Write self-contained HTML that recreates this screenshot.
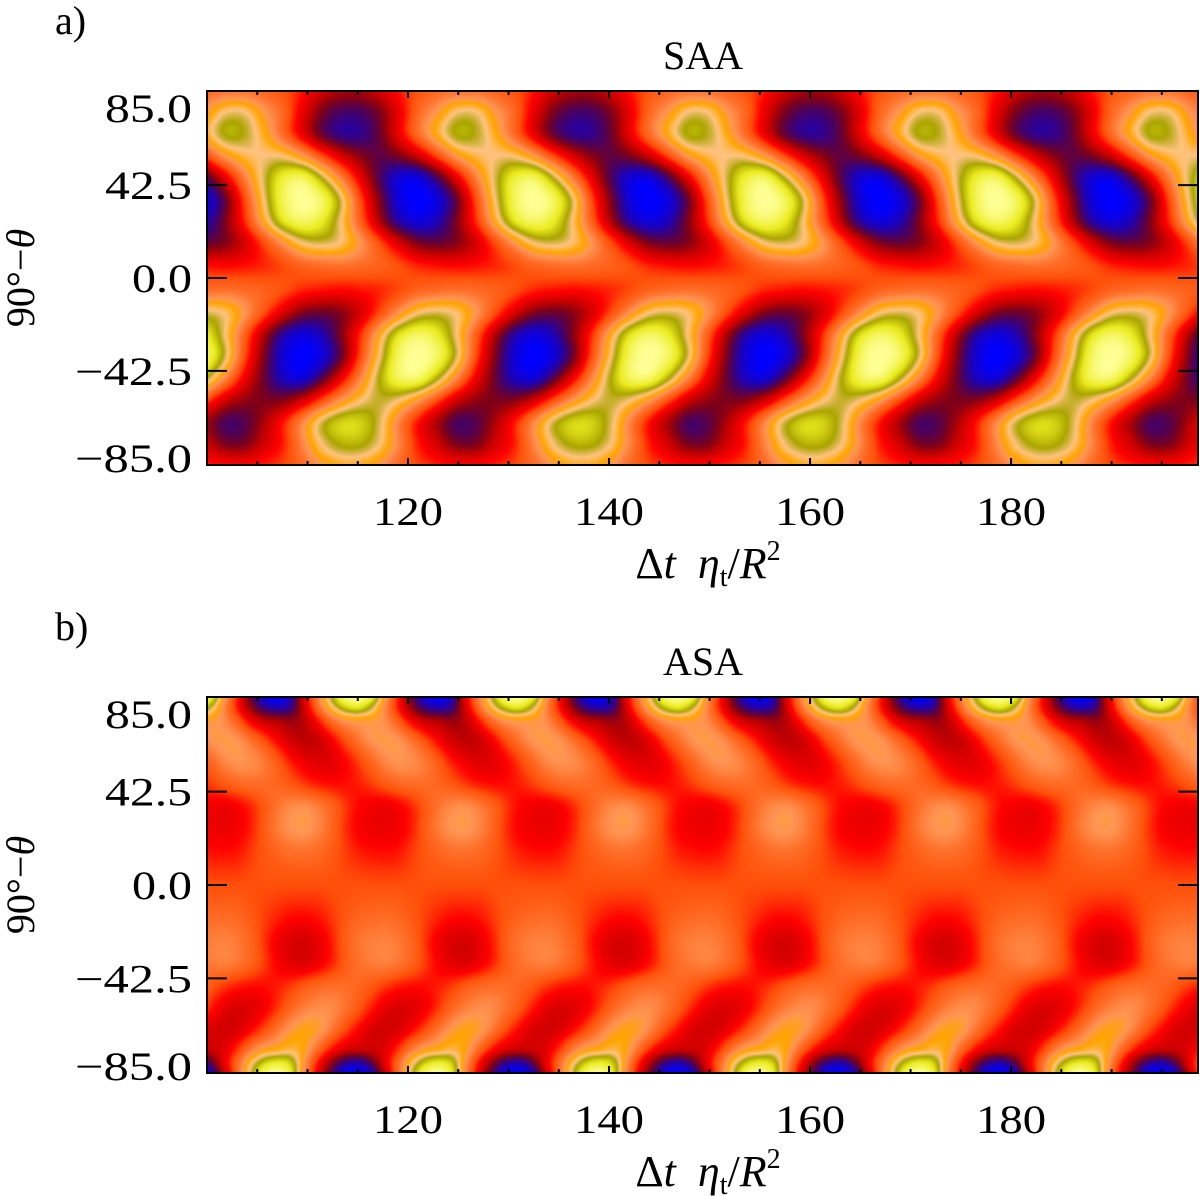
<!DOCTYPE html>
<html><head><meta charset="utf-8">
<style>
html,body{margin:0;padding:0;background:#fff;}
#wrap{position:relative;width:1200px;height:1196px;overflow:hidden;}
canvas{position:absolute;}
svg{position:absolute;left:0;top:0;}
text{font-family:"Liberation Serif","DejaVu Serif",serif;fill:#000;}
</style></head>
<body>
<div id="wrap">
<canvas id="cA" style="left:207px;top:91px" width="991" height="374"></canvas>
<canvas id="cB" style="left:207px;top:697px" width="991" height="376"></canvas>
<svg id="svg" width="1200" height="1196"></svg>
</div>
<script>
// ---- data: one period of the northern-hemisphere field (south = -mirror) ----
const periodA = 23;
const phaseStartA = 109.5;
const latsA = [86, 76, 66, 56, 46, 36, 26, 16, 6];
const valsA = [
 [-.12,-.3,-.4,-.4,-.3,-.12,.02,.1,.15,.15,.1,.02],
 [-.22,-.5,-.64,-.64,-.5,-.22,.1,.3,.5,.5,.3,.1],
 [-.22,-.55,-.72,-.72,-.55,-.22,.12,.4,.63,.6,.4,.12],
 [.3,0,-.28,-.48,-.58,-.5,-.3,0,.3,.45,.5,.48],
 [.88,.6,.2,-.22,-.62,-.88,-.9,-.62,-.22,.2,.55,.82],
 [1,.9,.55,0,-.5,-.9,-1,-.9,-.55,0,.5,.88],
 [.9,.8,.5,.08,-.38,-.76,-.9,-.8,-.5,-.08,.38,.76],
 [.5,.55,.48,.28,0,-.28,-.5,-.55,-.48,-.28,0,.28],
 [.1,.14,.16,.13,.08,0,-.1,-.14,-.16,-.13,-.08,0]
];
const periodB = 16;
const phaseStartB = 107;
const latsB = [86, 81, 75, 66, 56, 46, 36, 26, 16, 4];
const valsB = [
 [-1,-.8,-.25,.2,.6,.95,1,.85,.35,-.1,-.55,-.9],
 [-.8,-.7,-.3,.1,.45,.7,.78,.6,.25,-.1,-.45,-.7],
 [-.4,-.45,-.36,-.12,.12,.28,.33,.32,.25,.06,-.18,-.34],
 [-.16,-.3,-.36,-.32,-.18,0,.15,.27,.3,.27,.15,0],
 [.05,-.1,-.2,-.25,-.24,-.16,-.04,.1,.22,.27,.25,.18],
 [.1,.04,-.04,-.1,-.13,-.13,-.1,-.04,.04,.1,.13,.13],
 [.16,.23,.25,.19,.09,-.04,-.14,-.18,-.2,-.16,-.08,.04],
 [.19,.27,.29,.23,.11,-.05,-.16,-.2,-.21,-.18,-.1,.05],
 [.1,.15,.16,.13,.06,-.03,-.1,-.13,-.14,-.12,-.05,.03],
 [.02,.03,.03,.03,.01,-.01,-.02,-.03,-.03,-.03,-.01,.01]
];
const xTickLabels = ["120","140","160","180"];
const xTickValues = [120,140,160,180];
const yTickLabels = ["85.0","42.5","0.0","\u221242.5","\u221285.0"];
const yTickValues = [85,42.5,0,-42.5,-85];

const cstops = [
 [-1.0,0,0,255],[-0.8,30,0,180],[-0.65,70,0,100],[-0.5,125,0,25],[-0.35,195,0,0],
 [-0.15,255,0,0],[0.0,255,80,10],[0.15,255,112,42],[0.28,255,150,85],[0.38,255,165,0],
 [0.5,255,195,130],[0.62,170,165,0],[0.78,235,235,30],[1.0,255,255,150]];
function cmap(v){
  if(v<=cstops[0][0]) return cstops[0].slice(1);
  for(let i=1;i<cstops.length;i++){
    if(v<=cstops[i][0]){const a=cstops[i-1],b=cstops[i];const f=(v-a[0])/(b[0]-a[0]);
      return [a[1]+f*(b[1]-a[1]),a[2]+f*(b[2]-a[2]),a[3]+f*(b[3]-a[3])];}
  }
  return cstops[cstops.length-1].slice(1);
}
const X0=100, X1=198.6, YMAX=85.6;
function cr(p0,p1,p2,p3,t){return 0.5*((2*p1)+(-p0+p2)*t+(2*p0-5*p1+4*p2-p3)*t*t+(-p0+3*p1-3*p2+p3)*t*t*t);}
function rowVal(row,fk){const n=row.length;const i=Math.floor(fk);const t=fk-i;
  const g=j=>row[((j%n)+n)%n];return cr(g(i-1),g(i),g(i+1),g(i+2),t);}
function extend(lats,vals){
  const L=lats.slice(), V=vals.slice();
  for(let i=lats.length-1;i>=0;i--){L.push(-lats[i]);V.push(vals[i].map(x=>-x));}
  return [L,V];
}
function field(FL,FV,period,start,t,lat){
  const fk=(t-start)/period*12;
  const n=FL.length;
  let idx;
  if(lat>=FL[0]) idx=0; else if(lat<=FL[n-1]) idx=n-1;
  else{for(let i=0;i<n-1;i++){if(lat<=FL[i]&&lat>=FL[i+1]){idx=i+(FL[i]-lat)/(FL[i]-FL[i+1]);break;}}}
  const rv=j=>rowVal(FV[Math.max(0,Math.min(n-1,j))],fk);
  const i=Math.min(Math.floor(idx),n-1), f=idx-i;
  return cr(rv(i-1),rv(i),rv(i+1),rv(i+2),f);
}
function drawHeat(id,lats,vals,period,start){
  const [FL,FV]=extend(lats,vals);
  const c=document.getElementById(id),ctx=c.getContext('2d');
  const W=c.width,H=c.height,img=ctx.createImageData(W,H);
  for(let y=0;y<H;y++){
    const lat=YMAX-(y+0.5)/H*2*YMAX;
    for(let x=0;x<W;x++){
      const t=X0+(x+0.5)/W*(X1-X0);
      let v=field(FL,FV,period,start,t,lat);
      v=Math.max(-1,Math.min(1,v));
      const col=cmap(v);const k=(y*W+x)*4;
      img.data[k]=col[0];img.data[k+1]=col[1];img.data[k+2]=col[2];img.data[k+3]=255;
    }
  }
  ctx.putImageData(img,0,0);
}
drawHeat('cA',latsA,valsA,periodA,phaseStartA);
drawHeat('cB',latsB,valsB,periodB,phaseStartB);

const svg=document.getElementById('svg');
const NS='http://www.w3.org/2000/svg';
function mk(tag,attrs,parent){const e=document.createElementNS(NS,tag);for(const k in attrs)e.setAttribute(k,attrs[k]);(parent||svg).appendChild(e);return e;}
function drawAxes(top,bottom,letter,title){
  const L=207,R=1198;
  const xs=v=>L+(v-X0)/(X1-X0)*(R-L);
  const ys=v=>(top+bottom)/2-v/YMAX*(bottom-top)/2;
  const g=mk('g',{});
  
  
  const frame=mk('rect',{x:L,y:top,width:R-L,height:bottom-top,fill:'none',stroke:'#000','stroke-width':2},g);
  
  
  for(let v=105;v<X1;v+=5){
    const maj=(v%20===0), len=maj?7:4;
    const x=xs(v);
    const t1=mk('line',{x1:x,x2:x,y1:bottom,y2:bottom-len,stroke:'#000','stroke-width':2},g);
    
    
    const t2=mk('line',{x1:x,x2:x,y1:top,y2:top+len,stroke:'#000','stroke-width':2},g);
    
    
  }
  xTickValues.forEach((v,i)=>{
    const t=mk('text',{x:xs(v),y:bottom+60,'font-size':40,'text-anchor':'middle',textLength:70,lengthAdjust:'spacingAndGlyphs'},g);
    t.textContent=xTickLabels[i];
    
    
  });
  yTickValues.forEach((v,i)=>{
    const y=ys(v);
    if(Math.abs(v)<80){
      const l=mk('line',{x1:L,x2:L+20,y1:y,y2:y,stroke:'#000','stroke-width':2},g);
      
      
      const r=mk('line',{x1:R,x2:R-20,y1:y,y2:y,stroke:'#000','stroke-width':2},g);
      
      
    }
    let yy=y+14; if(v===85) yy=top+31; if(v===-85) yy=bottom+7;
    const lab=yTickLabels[i];
    const neg=lab.startsWith('\u2212');
    const w=lab.length===3?60:(neg?117:87);
    const t=mk('text',{x:192,y:yy,'font-size':40,'text-anchor':'end',textLength:w,lengthAdjust:'spacingAndGlyphs'},g);
    t.textContent=lab;
    
    
  });
  const tt=mk('text',{x:703,y:top-22,'font-size':40,'text-anchor':'middle'},g);
  tt.textContent=title;
  
  
  const pl=mk('text',{x:55,y:top-57,'font-size':40},g);
  pl.textContent=letter+')';
  
  
  const xt=mk('text',{x:708,y:bottom+113,'font-size':44,'text-anchor':'middle'},g);
  xt.innerHTML='\u0394<tspan font-style="italic">t</tspan>\u2002<tspan font-style="italic">\u03B7</tspan><tspan font-size="28" dy="8">t</tspan><tspan dy="-8">/</tspan><tspan font-style="italic">R</tspan><tspan font-size="28" dy="-18">2</tspan>';
  
  
  const cy=(top+bottom)/2;
  const yt=mk('text',{x:34,y:cy,'font-size':40,'text-anchor':'middle',transform:'rotate(-90 34 '+cy+')'},g);
  yt.innerHTML='90\u00B0\u2212<tspan font-style="italic">\u03B8</tspan>';
  
  
}
drawAxes(91,465,'a','SAA');
drawAxes(697,1073,'b','ASA');
</script>
</body></html>
